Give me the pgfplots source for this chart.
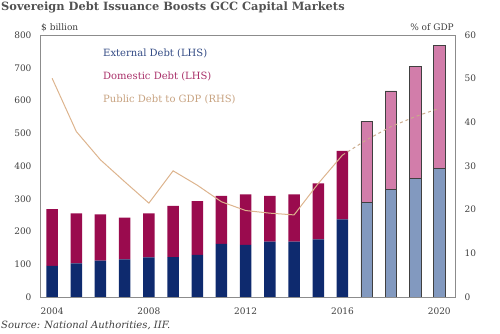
\documentclass[border=0pt]{standalone}
\usepackage{fontspec}
\setmainfont{DejaVu Serif}
\usepackage{pgfplots}
\pgfplotsset{compat=1.18}
\definecolor{extc}{HTML}{0E2A6E}
\definecolor{domc}{HTML}{9A0B4E}
\definecolor{extp}{HTML}{8299BF}
\definecolor{domp}{HTML}{D27DAA}
\definecolor{linec}{HTML}{DDB48E}
\definecolor{framec}{HTML}{8C8C8C}
\definecolor{textc}{HTML}{404040}
\pgfplotsset{
  base/.style={scale only axis, width=415pt, height=262pt,
    at={(40pt,37pt)}, anchor=south west,
    xmin=2003.5, xmax=2020.65, ymin=0, ymax=800,
    major tick length=0pt, tick style={draw=none},
    /pgf/number format/assume math mode=true,
    /pgf/number format/1000 sep={},
    ticklabel style={font=\fontsize{9}{11}\selectfont, text=textc}},
}
\begin{document}
\begin{tikzpicture}
\useasboundingbox (0,0) rectangle (500pt,334pt);
% historical bars
\begin{axis}[base, ybar stacked, bar width=11.5pt,
  axis line style={draw=framec},
  xtick={2004,2008,2012,2016,2020},
  ytick={0,100,...,800},
  yticklabel style={xshift=-5pt},
  xticklabel style={yshift=-7pt}]
\addplot[fill=extc, draw=none] coordinates {
(2004,95) (2005,103) (2006,111) (2007,115) (2008,121) (2009,122) (2010,129)
(2011,162) (2012,159) (2013,169) (2014,169) (2015,176) (2016,237)};
\addplot[fill=domc, draw=none] coordinates {
(2004,173) (2005,152) (2006,141) (2007,127) (2008,134) (2009,156) (2010,164)
(2011,147) (2012,154) (2013,140) (2014,144) (2015,171) (2016,209)};
\end{axis}
% projected bars
\begin{axis}[base, ybar stacked, bar width=11.5pt, hide axis]
\addplot[fill=extp, draw=black!75, line width=0.6pt] coordinates {
(2017,289) (2018,329) (2019,362) (2020,393)};
\addplot[fill=domp, draw=black!75, line width=0.6pt] coordinates {
(2017,248) (2018,300) (2019,342) (2020,375)};
\end{axis}
% right axis and line
\begin{axis}[base, ymin=0, ymax=60, axis line style={draw=none},
  axis x line=none, axis y line*=right,
  ytick={0,10,...,60}, yticklabel style={xshift=6pt}]
\addplot[linec, line width=1pt] coordinates {
(2004,50.1) (2005,37.9) (2006,31.4) (2007,26.4) (2008,21.5) (2009,28.9)
(2010,25.6) (2011,21.8) (2012,19.8) (2013,19.2) (2014,18.8) (2015,26.0) (2016,32.5)};
\addplot[linec!80!gray, line width=1pt, dashed] coordinates {
(2016,32.5) (2017,36.0) (2018,39.0) (2019,41.3) (2020,43.2)};
\end{axis}
% texts
\node[anchor=north west, inner sep=0pt, text=black!68, font=\bfseries\fontsize{11.4}{13}\selectfont] at (1pt,332pt) {Sovereign Debt Issuance Boosts GCC Capital Markets};
\node[anchor=base west, inner sep=0pt, text=textc, font=\fontsize{9}{11}\selectfont] at (41pt,303pt) {\$ billion};
\node[anchor=base east, inner sep=0pt, text=textc, font=\fontsize{9}{11}\selectfont] at (454pt,303pt) {\% of GDP};
\node[anchor=base west, inner sep=0pt, text=extc!85!white, font=\fontsize{10}{12}\selectfont] at (103pt,277pt) {External Debt (LHS)};
\node[anchor=base west, inner sep=0pt, text=domc!85!white, font=\fontsize{10}{12}\selectfont] at (103pt,254pt) {Domestic Debt (LHS)};
\node[anchor=base west, inner sep=0pt, text=linec!90!black, font=\fontsize{10}{12}\selectfont] at (103pt,231pt) {Public Debt to GDP (RHS)};
\node[anchor=base west, inner sep=0pt, text=textc, font=\itshape\fontsize{10}{12}\selectfont] at (1pt,5pt) {Source: National Authorities, IIF.};
\end{tikzpicture}
\end{document}
